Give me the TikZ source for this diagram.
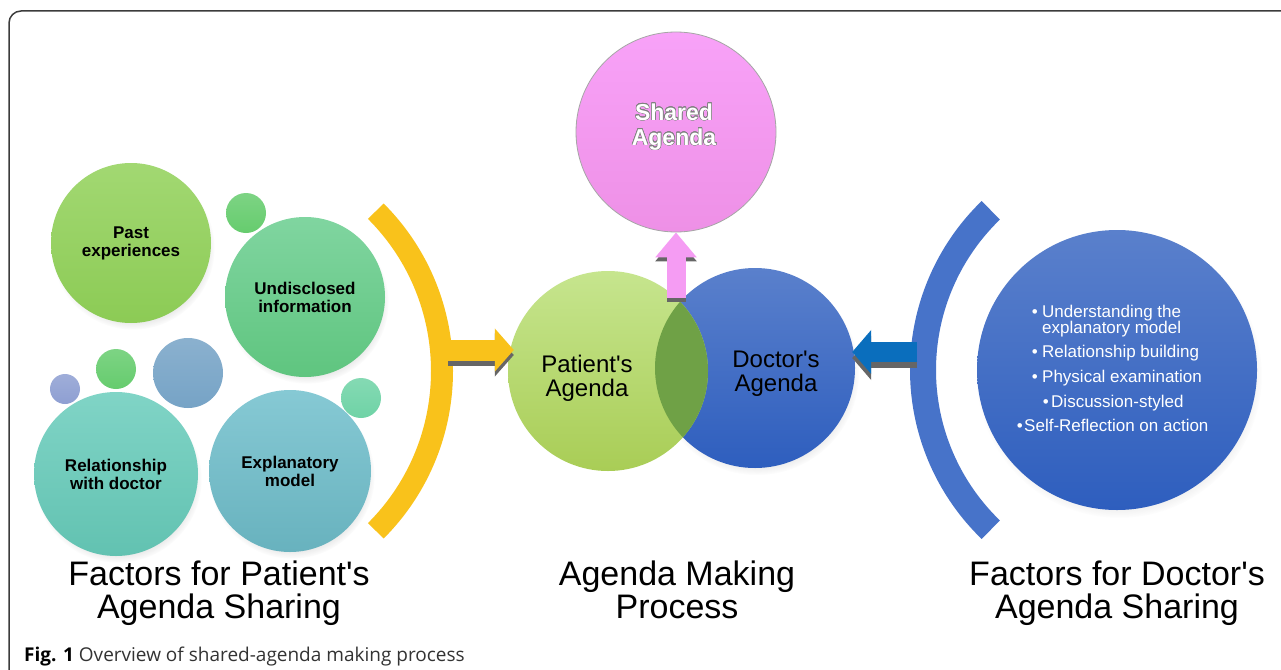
\documentclass[tikz,border=0pt]{standalone}
\usepackage{fontspec}
\setmainfont{Liberation Sans}
\newfontfamily\capfont{Open Sans}
\usepackage{contour}
\contourlength{0.5pt}
\usetikzlibrary{positioning,shadows,arrows.meta}

\definecolor{pastA}{HTML}{A2D872}
\definecolor{pastB}{HTML}{8CCB55}
\definecolor{undA}{HTML}{80D5A0}
\definecolor{undB}{HTML}{5FC57F}
\definecolor{relA}{HTML}{80D4C6}
\definecolor{relB}{HTML}{62C2B1}
\definecolor{expA}{HTML}{86C9D4}
\definecolor{expB}{HTML}{68B2BE}
\definecolor{dotgreen}{HTML}{66CC6E}
\definecolor{dotteal}{HTML}{6FD3A6}
\definecolor{dotblue}{HTML}{8E9FD2}
\definecolor{dotgray}{HTML}{76A3C6}
\definecolor{patA}{HTML}{C6E58E}
\definecolor{patB}{HTML}{A9CD56}
\definecolor{docA}{HTML}{5A80CC}
\definecolor{docB}{HTML}{2E5EBE}
\definecolor{shrA}{HTML}{F8A2F8}
\definecolor{shrB}{HTML}{EE90E6}
\definecolor{overlap}{HTML}{6FA146}
\definecolor{yellowarc}{HTML}{F9C21B}
\definecolor{bluearc}{HTML}{4773C9}
\definecolor{bluearrow}{HTML}{0A6EBD}
\definecolor{pinkarrow}{HTML}{F59CF3}
\definecolor{framegray}{HTML}{3C3C3C}

\newcommand{\apos}{\textquotesingle}

\tikzset{
  bubble/.style={circle, inner sep=0pt, minimum size=#1},
  tint/.style 2 args={top color=#1, bottom color=#2, draw=none},
  softshadow/.style={circular drop shadow={shadow xshift=2pt, shadow yshift=-5pt, opacity=.25, shadow scale=1.02}},
  factor/.style={font=\bfseries\fontsize{17}{18}\selectfont, align=center},
  agenda/.style={font=\fontsize{24}{24}\selectfont, align=center},
  heading/.style={font=\fontsize{34}{33}\selectfont, align=center},
  docitem/.style={font=\fontsize{17}{17}\selectfont, text=white, anchor=base west, inner sep=0pt},
  blockarrow/.style 2 args={line width=#1, -{Triangle[length=19pt, width=#2]}},
}

\begin{document}
\begin{tikzpicture}[x=1pt,y=-1pt]
    \useasboundingbox (0,0) rectangle (1281,669);
    \fill[white] (0,0) rectangle (1281,669);

    %frame:
    \draw[framegray, line width=1.5pt, rounded corners=12pt] (9,11) rectangle (1310,700);

    %patient factors:
    \node[bubble=40pt, tint={dotgreen!85!white}{dotgreen}] (dot1) at (246,213) {};
    \node[bubble=40pt, tint={dotgreen!85!white}{dotgreen}] (dot2) at (116,369) {};
    \node[bubble=30pt, tint={dotblue!85!white}{dotblue}] (dot3) at (65,389) {};
    \node[bubble=70pt, tint={dotgray!85!white}{dotgray}] (dot4) at (188,373) {};
    \node[bubble=40pt, tint={dotteal!85!white}{dotteal}] (dot5) at (361,398) {};
    \node[bubble=160pt, tint={pastA}{pastB}, softshadow, factor] (past) at (131,243) {Past\\experiences};
    \node[bubble=160pt, tint={undA}{undB}, softshadow, factor] (undis) at (305,297) {Undisclosed\\information};
    \node[bubble=164pt, tint={relA}{relB}, softshadow, factor] (relat) at (116,474) {Relationship\\with doctor};
    \node[bubble=162pt, tint={expA}{expB}, softshadow, factor] (explan) at (290,471) {Explanatory\\model};

    %brackets:
    \coordinate (yc) at (216,371);
    \draw[yellowarc, line width=22pt] (yc) ++(-45:226) arc[start angle=-45, end angle=45, radius=226];
    \coordinate (bc) at (1145,370);
    \draw[bluearc, line width=26pt] (bc) ++(134:222) arc[start angle=134, end angle=226, radius=222];

    %agenda making:
    \node[bubble=200pt, tint={docA}{docB}, softshadow] (doc) at (755,368) {};
    \node[bubble=200pt, tint={patA}{patB}] (pat) at (608,371) {};
    \begin{scope}
        \clip (doc.center) circle (100pt);
        \fill[overlap] (pat.center) circle (100pt);
    \end{scope}
    \node[agenda] (pattext) at (587,378) {Patient\apos s\\Agenda};
    \node[agenda] (doctext) at (776,374) {Doctor\apos s\\Agenda};

    \node[bubble=200pt, tint={shrA}{shrB}, draw=gray!70, line width=0.8pt] (shared) at (676,132) {};
    \node[font=\bfseries\fontsize{23}{25}\selectfont, text=white, align=center] (sharedtext) at (674,127) {\contour{gray}{Shared}\\\contour{gray}{Agenda}};

    %doctor factors:
    \node[bubble=280pt, tint={docA}{docB}, softshadow] (dfact) at (1117,370) {};
    \node[docitem] (und) at (1042,317) {\llap{\textbullet\hspace{4.5pt}}Understanding the};
    \node[docitem] (expl) at (1042,333) {explanatory model};
    \node[docitem] (rel) at (1042,357) {\llap{\textbullet\hspace{4.5pt}}Relationship building};
    \node[docitem] (phys) at (1042,382) {\llap{\textbullet\hspace{4.5pt}}Physical examination};
    \node[docitem] (disc) at (1051,407) {\llap{\textbullet\hspace{2.5pt}}Discussion-styled};
    \node[docitem] (refl) at (1024,431) {\llap{\textbullet\hspace{1.5pt}}Self-Reflection on action};

    %arrows:
    \coordinate (ya) at (448,350);
    \coordinate (yb) at (ya -| pat.west);
    \draw[blockarrow={21pt}{42pt}, black!60, shorten >=-6pt] ([yshift=-5pt]ya) -- ([yshift=-5pt]yb);
    \draw[blockarrow={21pt}{42pt}, yellowarc, shorten >=-6pt] (ya) -- (yb);

    \coordinate (da) at (917,352);
    \coordinate (db) at (da -| doc.east);
    \draw[blockarrow={20pt}{43pt}, black!60, shorten >=-3pt] ([yshift=-6pt]da) -- ([yshift=-6pt]db);
    \draw[blockarrow={20pt}{43pt}, bluearrow, shorten >=-3pt] (da) -- (db);

    \coordinate (pa) at (676,298);
    \draw[line width=19pt, -{Triangle[length=25pt, width=40pt]}, black!60] ([yshift=-4pt]pa) -- ([yshift=-4pt]shared.south);
    \draw[line width=19pt, -{Triangle[length=25pt, width=40pt]}, pinkarrow] (pa) -- (shared.south);

    %titles:
    \node[heading] (lefthead) at (219,593) {Factors for Patient\apos s\\Agenda Sharing};
    \node[heading] (midhead) at (677,590) {Agenda Making\\Process};
    \node[heading] (righthead) at (1117,593) {Factors for Doctor\apos s\\Agenda Sharing};

    %caption:
    \node[anchor=base west, inner sep=0pt, font=\capfont\fontsize{19}{19}\selectfont, text=black!80] (caption) at (24,661) {\textbf{\color{black}Fig. 1} Overview of shared-agenda making process};

\end{tikzpicture}
\end{document}
